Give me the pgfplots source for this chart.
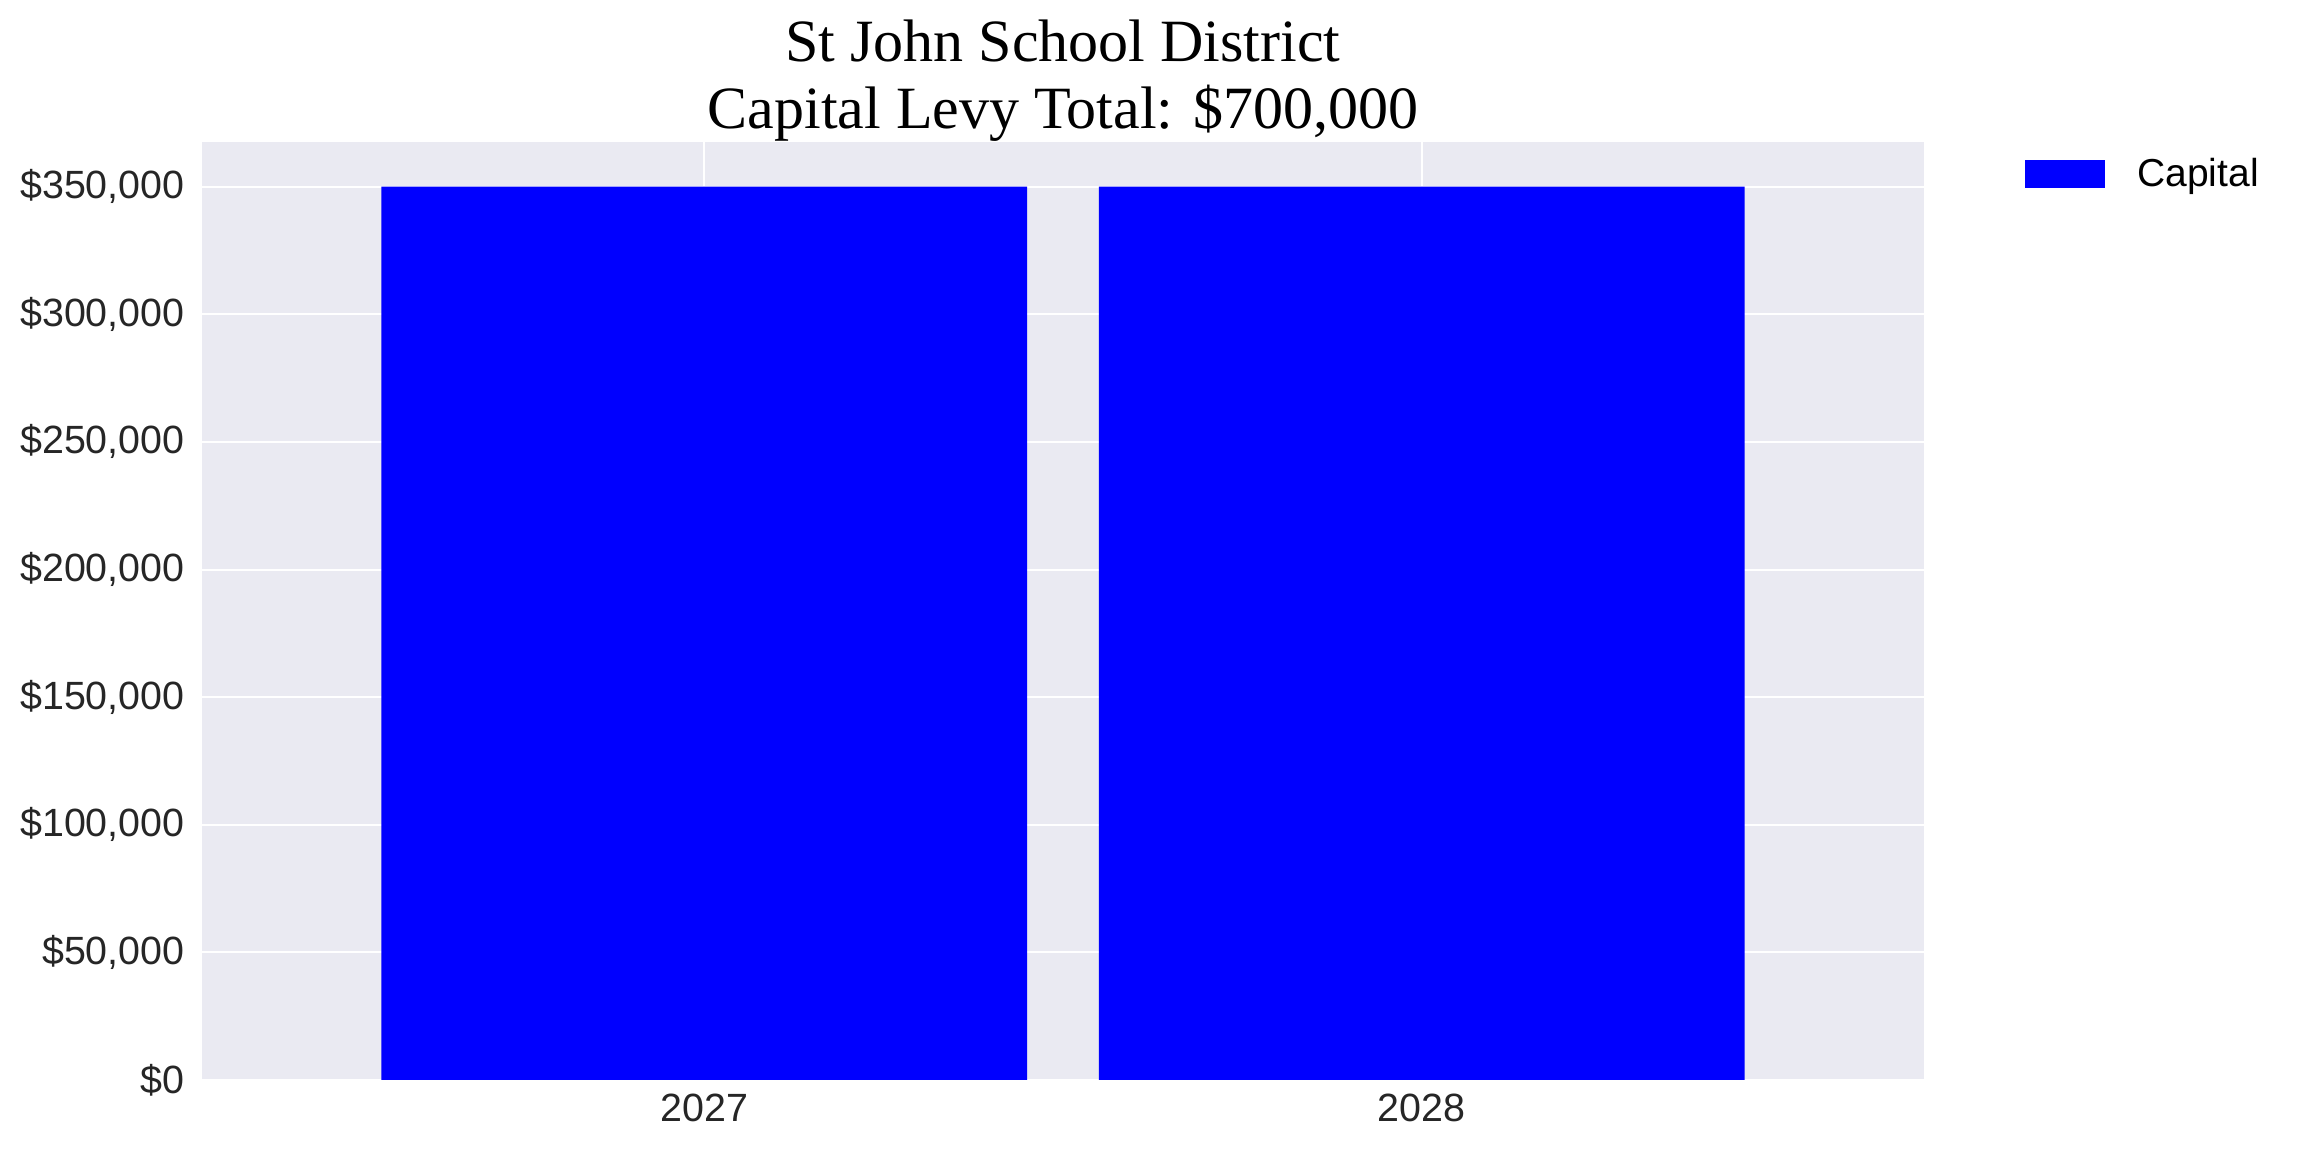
\documentclass[border=0pt]{standalone}
\usepackage{pgfplots}
\pgfplotsset{compat=1.18}
\usepackage{fontspec}
\setmainfont{Liberation Sans}
\newfontfamily\titlefont{Liberation Serif}
\definecolor{sbbg}{HTML}{EAEAF2}
\definecolor{sbtext}{HTML}{262626}
\definecolor{capblue}{HTML}{0000FF}
\begin{document}
\begin{tikzpicture}
\useasboundingbox (0,0) rectangle (1152pt,576pt);
\begin{axis}[
  at={(101pt,36pt)}, anchor=south west,
  scale only axis, width=861pt, height=469pt,
  xmin=-0.7, xmax=1.7, ymin=0, ymax=367500,
  axis background/.style={fill=sbbg},
  axis line style={draw=none},
  major tick length=0pt,
  grid=major,
  major grid style={white, line width=1pt},
  xtick={0,1}, xticklabels={2027,2028},
  ytick={0,50000,100000,150000,200000,250000,300000,350000},
  yticklabels={{\$0},{\$50,000},{\$100,000},{\$150,000},{\$200,000},{\$250,000},{\$300,000},{\$350,000}},
  scaled y ticks=false,
  tick label style={font=\fontsize{19.7}{23}\selectfont, text=sbtext, inner sep=0pt},
  yticklabel style={anchor=east, xshift=-8.5pt},
  xticklabel style={anchor=north, yshift=-7pt},
  title={St John School District\\Capital Levy Total: \$700,000},
  title style={font=\titlefont\fontsize{30}{33.4}\selectfont, align=center,
    at={(0.5,1)}, anchor=south, inner sep=0pt, yshift=-6pt},
  legend style={at={(1,1)}, anchor=north west, xshift=50.5pt, yshift=-8pt,
    draw=none, fill=none, inner sep=0pt,
    font=\fontsize{19.5}{23}\selectfont,
    nodes={inner sep=0pt}, column sep=16pt},
  legend image code/.code={\fill[#1] (0pt,-7pt) rectangle (40pt,7pt);},
]
\addplot[ybar, bar width=0.9, bar shift=0pt, fill=capblue, draw=none]
  coordinates {(0,350000) (1,350000)};
\addlegendentry{Capital}
\end{axis}
\end{tikzpicture}
\end{document}
